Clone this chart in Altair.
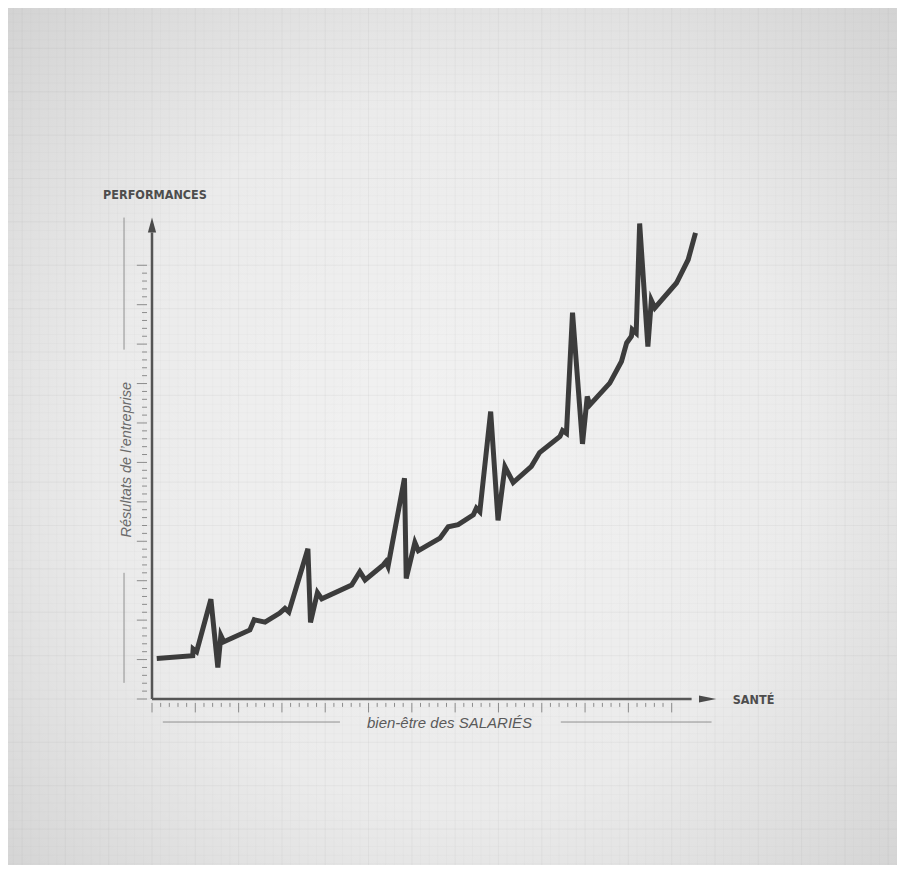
import altair as alt
import pandas as pd

# ---- data (x: "bien-être" units, y: "performances" units) ----
curve_x = [0.11, 0.94, 0.95, 1.03, 1.36, 1.52, 1.59, 1.66,
           2.26, 2.36, 2.61, 2.95, 3.07, 3.16,
           3.60, 3.66, 3.82, 3.92,
           4.61, 4.80, 4.92, 5.34, 5.40, 5.45,
           5.83, 5.87, 6.07, 6.15,
           6.65, 6.84, 7.07, 7.42, 7.49, 7.57,
           7.82, 7.99, 8.15, 8.34,
           8.76, 8.95, 9.42, 9.48, 9.57,
           9.71, 9.94, 10.05, 10.11,
           10.57, 10.84, 10.96, 11.07, 11.09, 11.18,
           11.26, 11.45, 11.53, 11.61,
           12.11, 12.38, 12.55]
curve_y = [1.03, 1.10, 1.27, 1.20, 2.53, 0.80, 1.61, 1.45,
           1.75, 2.01, 1.95, 2.18, 2.30, 2.21,
           3.81, 1.94, 2.70, 2.54,
           2.89, 3.23, 3.02, 3.40, 3.48, 3.36,
           5.60, 3.06, 3.97, 3.76,
           4.08, 4.37, 4.42, 4.67, 4.84, 4.75,
           7.29, 4.53, 5.89, 5.49,
           5.90, 6.25, 6.66, 6.81, 6.74,
           9.80, 6.47, 7.67, 7.46,
           8.01, 8.56, 9.03, 9.20, 9.37, 9.28,
           12.06, 8.94, 10.11, 9.92,
           10.55, 11.14, 11.82]

# graduation marks along both axes (major every unit, minor every 0.2)
x_major = list(range(0, 13))
x_minor = [round(i * 0.2, 1) for i in range(61) if i % 5 != 0]
y_major = list(range(0, 12))
y_minor = [round(i * 0.2, 1) for i in range(56) if i % 5 != 0]

x_domain = [0, 13]
y_domain = [0, 12.3]

# paper background extent (data units) and its faint graph-paper grid
paper_x = [-3.33, 17.2]
paper_y = [-4.22, 17.55]
grid_vx = [round(i * 0.2, 1) for i in range(-16, 87)]
grid_hy = [round(i * 0.22, 2) for i in range(-19, 80)]

# axis lines (data units)
axis_x1 = [0, 0]
axis_y1 = [0, 0]
axis_x2 = [12.46, 0]
axis_y2 = [0, 11.83]

# decorative guide lines beside the titles
guide_x1 = [-0.646, -0.646, 0.25, 9.44]
guide_y1 = [12.21, 3.20, -0.584, -0.584]
guide_x2 = [-0.646, -0.646, 4.34, 12.92]
guide_y2 = [8.86, 0.41, -0.584, -0.584]

# texts
label_y_title = ["PERFORMANCES"]
label_x_title = ["SANTÉ"]
label_y_sub = ["Résultats de l\u2019entreprise"]
label_x_sub = ["bien-être des SALARIÉS"]

curve = pd.DataFrame({"x": curve_x, "y": curve_y, "i": list(range(len(curve_x)))})
axes_df = pd.DataFrame({"x": axis_x1, "y": axis_y1, "x2": axis_x2, "y2": axis_y2})
guides_df = pd.DataFrame({"x": guide_x1, "y": guide_y1, "x2": guide_x2, "y2": guide_y2})

xt = pd.DataFrame({
    "x": x_major + x_minor,
    "x2": x_major + x_minor,
    "y": [-0.10] * (len(x_major) + len(x_minor)),
    "y2": [-0.34] * len(x_major) + [-0.20] * len(x_minor),
})
yt = pd.DataFrame({
    "y": y_major + y_minor,
    "y2": y_major + y_minor,
    "x": [-0.115] * (len(y_major) + len(y_minor)),
    "x2": [-0.35] * len(y_major) + [-0.23] * len(y_minor),
})

grid_df = pd.DataFrame({
    "x": grid_vx + [paper_x[0]] * len(grid_hy),
    "x2": grid_vx + [paper_x[1]] * len(grid_hy),
    "y": [paper_y[0]] * len(grid_vx) + grid_hy,
    "y2": [paper_y[1]] * len(grid_vx) + grid_hy,
    "major": [i % 5 == 0 for i in range(-16, 87)] + [i % 5 == 0 for i in range(-19, 80)],
})

paper_df = pd.DataFrame({"x": [paper_x[0]], "x2": [paper_x[1]], "y": [paper_y[0]], "y2": [paper_y[1]]})

xs = alt.Scale(domain=x_domain, nice=False, zero=False)
ys = alt.Scale(domain=y_domain, nice=False, zero=False)


def enc(ch):
    return ch.encode(x=alt.X("x:Q", scale=xs, axis=None), y=alt.Y("y:Q", scale=ys, axis=None))


paper = enc(alt.Chart(paper_df).mark_rect(
    color={"gradient": "radial",
           "x1": 0.5, "y1": 0.52, "r1": 0.0, "x2": 0.5, "y2": 0.52, "r2": 0.72,
           "stops": [{"offset": 0, "color": "#f2f2f2"},
                     {"offset": 0.55, "color": "#ebebeb"},
                     {"offset": 1, "color": "#d2d2d2"}]}
)).encode(x2="x2:Q", y2="y2:Q")

grid = enc(alt.Chart(grid_df).mark_rule(strokeWidth=0.6)).encode(
    x2="x2:Q", y2="y2:Q",
    color=alt.value("#9a9a9a"),
    opacity=alt.condition("datum.major", alt.value(0.16), alt.value(0.08)),
)

line = alt.Chart(curve).mark_line(color="#3c3c3c", strokeWidth=5).encode(
    x=alt.X("x:Q", scale=xs, axis=None),
    y=alt.Y("y:Q", scale=ys, axis=None),
    order="i:Q",
)

axis_rules = enc(alt.Chart(axes_df).mark_rule(color="#555555", strokeWidth=2.5)).encode(
    x2="x2:Q", y2="y2:Q")

guide_rules = enc(alt.Chart(guides_df).mark_rule(color="#8f8f8f", strokeWidth=1)).encode(
    x2="x2:Q", y2="y2:Q")

x_tick_rules = enc(alt.Chart(xt).mark_rule(color="#8c8c8c", strokeWidth=1)).encode(
    x2="x2:Q", y2="y2:Q")
y_tick_rules = enc(alt.Chart(yt).mark_rule(color="#8c8c8c", strokeWidth=1)).encode(
    x2="x2:Q", y2="y2:Q")

arrow_up = enc(alt.Chart(pd.DataFrame({"x": [0], "y": [12.02]})).mark_point(
    shape="M0,-1L0.55,1L-0.55,1Z", size=225, filled=True, color="#4a4a4a", opacity=1))

arrow_right = enc(alt.Chart(pd.DataFrame({"x": [12.83], "y": [0]})).mark_point(
    shape="M1,0L-1,0.4L-1,-0.4Z", size=300, filled=True, color="#4a4a4a", opacity=1))

t_perf = enc(alt.Chart(pd.DataFrame({"x": [-1.13], "y": [12.77], "t": label_y_title})).mark_text(
    align="left", baseline="middle", font="DejaVu Sans Condensed", fontWeight="bold",
    fontSize=12.5, color="#4d4d4d")).encode(text="t:N")

t_sante = enc(alt.Chart(pd.DataFrame({"x": [13.41], "y": [-0.03], "t": label_x_title})).mark_text(
    align="left", baseline="middle", font="DejaVu Sans Condensed", fontWeight="bold",
    fontSize=12.5, color="#4d4d4d")).encode(text="t:N")

t_res = enc(alt.Chart(pd.DataFrame({"x": [-0.577], "y": [6.07], "t": label_y_sub})).mark_text(
    align="center", baseline="middle", angle=270, font="Liberation Sans", fontStyle="italic",
    fontSize=14.5, color="#6a6a6a")).encode(text="t:N")

t_bien = enc(alt.Chart(pd.DataFrame({"x": [6.87], "y": [-0.61], "t": label_x_sub})).mark_text(
    align="center", baseline="middle", font="Liberation Sans", fontStyle="italic",
    fontSize=15, color="#5a5a5a")).encode(text="t:N")

chart = alt.layer(
    paper, grid, guide_rules, x_tick_rules, y_tick_rules, axis_rules, line,
    arrow_up, arrow_right, t_perf, t_sante, t_res, t_bien
).properties(
    width=563, height=485,
    autosize=alt.AutoSizeParams(type="none"),
    padding={"left": 144, "top": 206, "right": 182, "bottom": 166},
    background="#e2e2e2",
).configure_view(stroke=None)

chart.save("out.html", embed_options={"renderer": "svg", "actions": False})
